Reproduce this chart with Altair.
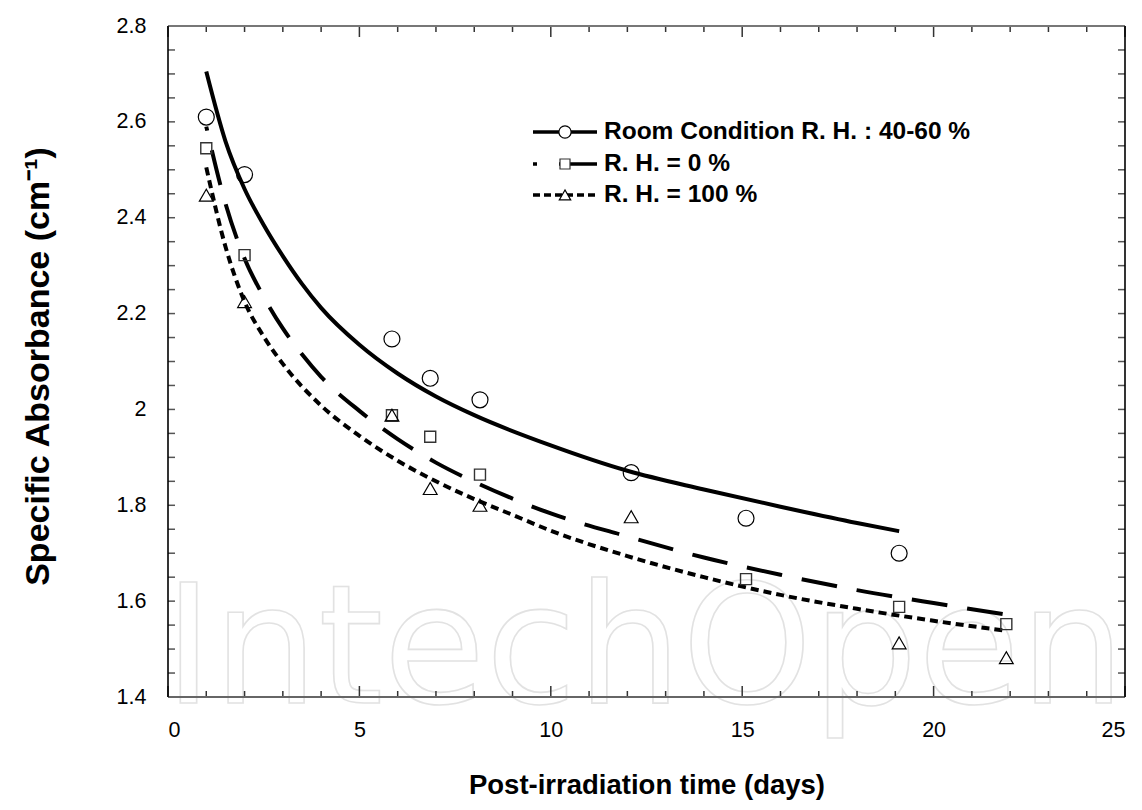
import altair as alt
import pandas as pd

# ---------------- data ----------------
legend_labels = ["Room Condition R. H. : 40-60 %", "R. H. = 0 %", "R. H. = 100 %"]

days_room = [1.0, 2.0, 5.85, 6.85, 8.15, 12.1, 15.1, 19.1]
abs_room = [2.61, 2.49, 2.147, 2.065, 2.02, 1.868, 1.773, 1.70]
days_dry = [1.0, 2.0, 5.85, 6.85, 8.15, 15.1, 19.1, 21.9]
abs_dry = [2.545, 2.322, 1.988, 1.943, 1.864, 1.646, 1.588, 1.552]
days_wet = [1.0, 2.0, 5.85, 6.85, 8.15, 12.1, 19.1, 21.9]
abs_wet = [2.447, 2.225, 1.988, 1.835, 1.80, 1.776, 1.513, 1.482]

fit_room_days = [1.0, 1.5, 2.0, 2.5, 3.0, 3.5, 4.0, 5.0, 6.0, 7.0, 8.0, 10.0, 12.0, 14.0, 16.0, 18.0, 19.1]
fit_room_abs = [2.705, 2.56, 2.46, 2.385, 2.32, 2.262, 2.212, 2.135, 2.075, 2.027, 1.988, 1.925, 1.872, 1.833, 1.797, 1.763, 1.746]
fit_dry_days = [1.0, 1.5, 2.0, 2.5, 3.0, 3.5, 4.0, 5.0, 6.0, 7.0, 8.0, 9.0, 10.0, 12.0, 14.0, 16.0, 18.0, 20.0, 21.9]
fit_dry_abs = [2.59, 2.43, 2.315, 2.235, 2.169, 2.115, 2.068, 1.997, 1.938, 1.889, 1.849, 1.814, 1.783, 1.735, 1.691, 1.655, 1.623, 1.596, 1.572]
fit_wet_days = [1.0, 1.5, 2.0, 2.5, 3.0, 4.0, 5.0, 6.0, 7.0, 8.0, 9.0, 10.0, 12.0, 14.0, 16.0, 18.0, 20.0, 21.9]
fit_wet_abs = [2.505, 2.34, 2.225, 2.152, 2.095, 2.008, 1.945, 1.893, 1.85, 1.813, 1.78, 1.747, 1.694, 1.65, 1.613, 1.584, 1.559, 1.538]

x_major = [0, 5, 10, 15, 20, 25]
x_minor = [1, 2, 3, 4, 6, 7, 8, 9, 11, 12, 13, 14, 16, 17, 18, 19, 21, 22, 23, 24]
y_major = [1.4, 1.6, 1.8, 2.0, 2.2, 2.4, 2.6, 2.8]
y_ticks = [1.40, 1.45, 1.50, 1.55, 1.60, 1.65, 1.70, 1.75, 1.80, 1.85, 1.90, 1.95, 2.00,
           2.05, 2.10, 2.15, 2.20, 2.25, 2.30, 2.35, 2.40, 2.45, 2.50, 2.55, 2.60, 2.65,
           2.70, 2.75, 2.80]
watermark = ["IntechOpen"]

# ---------------- layout ----------------
W, H = 957, 671
FONT = "Liberation Sans"
xs = alt.Scale(domain=[0, 25], nice=False, zero=False)
ys = alt.Scale(domain=[1.4, 2.8], nice=False, zero=False)

x_axis = alt.Axis(values=x_major, format="d", grid=False, ticks=False, tickSize=0, domain=False,
                  labelFont=FONT, labelFontSize=21.5, labelColor="black", labelPadding=22,
                  title="Post-irradiation time (days)", titleFont=FONT, titleFontSize=27.5,
                  titleFontWeight="bold", titleColor="black", titleX=W / 2, titleY=88,
                  titleAlign="center", titleBaseline="middle")
y_axis = alt.Axis(values=y_major, format="~g", grid=False, ticks=False, tickSize=0, domain=False,
                  labelFont=FONT, labelFontSize=21.5, labelColor="black", labelPadding=22,
                  title="Specific Absorbance (cm\u207b\u00b9)", titleFont=FONT, titleFontSize=34,
                  titleFontWeight="bold", titleColor="black", titleAngle=-90, titleX=-130,
                  titleY=340, titleAlign="center", titleBaseline="middle")


def X(field="d"):
    return alt.X(f"{field}:Q", scale=xs, axis=x_axis)


def Y(field="v"):
    return alt.Y(f"{field}:Q", scale=ys, axis=y_axis)


layers = []

# watermark (behind everything)
layers.append(
    alt.Chart(pd.DataFrame({"w": watermark})).mark_text(
        font="DejaVu Sans", fontSize=166, align="left", baseline="alphabetic",
        fillOpacity=0, stroke="#e2e2e2", strokeWidth=1.6
    ).encode(text="w:N", x=alt.value(-4), y=alt.value(677))
)

# fitted curves
curves = [
    (fit_room_days, fit_room_abs, [], 0),
    (fit_dry_days, fit_dry_abs, [36, 20], 32),
    (fit_wet_days, fit_wet_abs, [8, 5], 0),
]
for dd, vv, dash, off in curves:
    kw = dict(color="black", strokeWidth=4, interpolate="monotone")
    if dash:
        kw["strokeDash"] = dash
        kw["strokeDashOffset"] = off
    layers.append(
        alt.Chart(pd.DataFrame({"d": dd, "v": vv})).mark_line(**kw).encode(x=X(), y=Y())
    )

# data points
points = [
    (days_room, abs_room, "circle", 255, "black", 1.2),
    (days_dry, abs_dry, "square", 121, "#333333", 1.4),
    (days_wet, abs_wet, "triangle-up", 190, "black", 1.2),
]
for dd, vv, shp, sz, col, sw in points:
    layers.append(
        alt.Chart(pd.DataFrame({"d": dd, "v": vv})).mark_point(
            shape=shp, size=sz, filled=False, stroke=col, strokeWidth=sw, opacity=1
        ).encode(x=X(), y=Y())
    )

# inside ticks
tick_col = "#333333"
for vals, length in [(x_minor, 6), (x_major, 11)]:
    df = pd.DataFrame({"d": vals})
    layers.append(alt.Chart(df).mark_rule(color=tick_col, strokeWidth=1.5).encode(
        x=X(), y=alt.value(H), y2=alt.value(H - length)))
    layers.append(alt.Chart(df).mark_rule(color=tick_col, strokeWidth=1.5).encode(
        x=X(), y=alt.value(0), y2=alt.value(length)))
dfy = pd.DataFrame({"v": y_ticks})
layers.append(alt.Chart(dfy).mark_rule(color="#555555", strokeWidth=1.5).encode(
    y=Y(), x=alt.value(0), x2=alt.value(7)))
layers.append(alt.Chart(dfy).mark_rule(color="#555555", strokeWidth=1.5).encode(
    y=Y(), x=alt.value(W), x2=alt.value(W - 7)))

# frame
one = pd.DataFrame({"k": [0]})
layers.append(alt.Chart(one).mark_rule(color="#777777", strokeWidth=2).encode(
    x=alt.value(0), x2=alt.value(W), y=alt.value(0)))
layers.append(alt.Chart(one).mark_rule(color="#666666", strokeWidth=2).encode(
    x=alt.value(0), x2=alt.value(W), y=alt.value(H)))
layers.append(alt.Chart(one).mark_rule(color="black", strokeWidth=1.6).encode(
    y=alt.value(0), y2=alt.value(H), x=alt.value(0)))
layers.append(alt.Chart(one).mark_rule(color="black", strokeWidth=1.6).encode(
    y=alt.value(0), y2=alt.value(H), x=alt.value(W)))

# manual legend
leg_rows = [106, 138, 169]
leg_dash = [[], [4, 22, 40, 20], [7, 4]]
leg_shape = [("circle", 150, "black"), ("square", 100, "#333333"), ("triangle-up", 130, "black")]
for i, lab in enumerate(legend_labels):
    df = pd.DataFrame({"lab": [lab]})
    kw = dict(color="black", strokeWidth=3.5)
    if leg_dash[i]:
        kw["strokeDash"] = leg_dash[i]
    layers.append(alt.Chart(df).mark_rule(**kw).encode(
        x=alt.value(365), x2=alt.value(429), y=alt.value(leg_rows[i])))
    shp, sz, col = leg_shape[i]
    layers.append(alt.Chart(df).mark_point(shape=shp, size=sz, filled=True, fill="white",
                                           stroke=col, strokeWidth=1.2, opacity=1).encode(
        x=alt.value(397), y=alt.value(leg_rows[i])))
    layers.append(alt.Chart(df).mark_text(font=FONT, fontSize=24.5, fontWeight="bold",
                                          align="left", baseline="middle", color="black").encode(
        text="lab:N", x=alt.value(436), y=alt.value(leg_rows[i])))

chart = alt.layer(*layers).properties(
    width=W, height=H,
    padding={"left": 168, "top": 26, "right": 17, "bottom": 113},
    autosize=alt.AutoSizeParams(type="none"),
    background="white",
).configure_view(stroke=None)

chart.save("out.html", embed_options={"renderer": "svg", "actions": False})
